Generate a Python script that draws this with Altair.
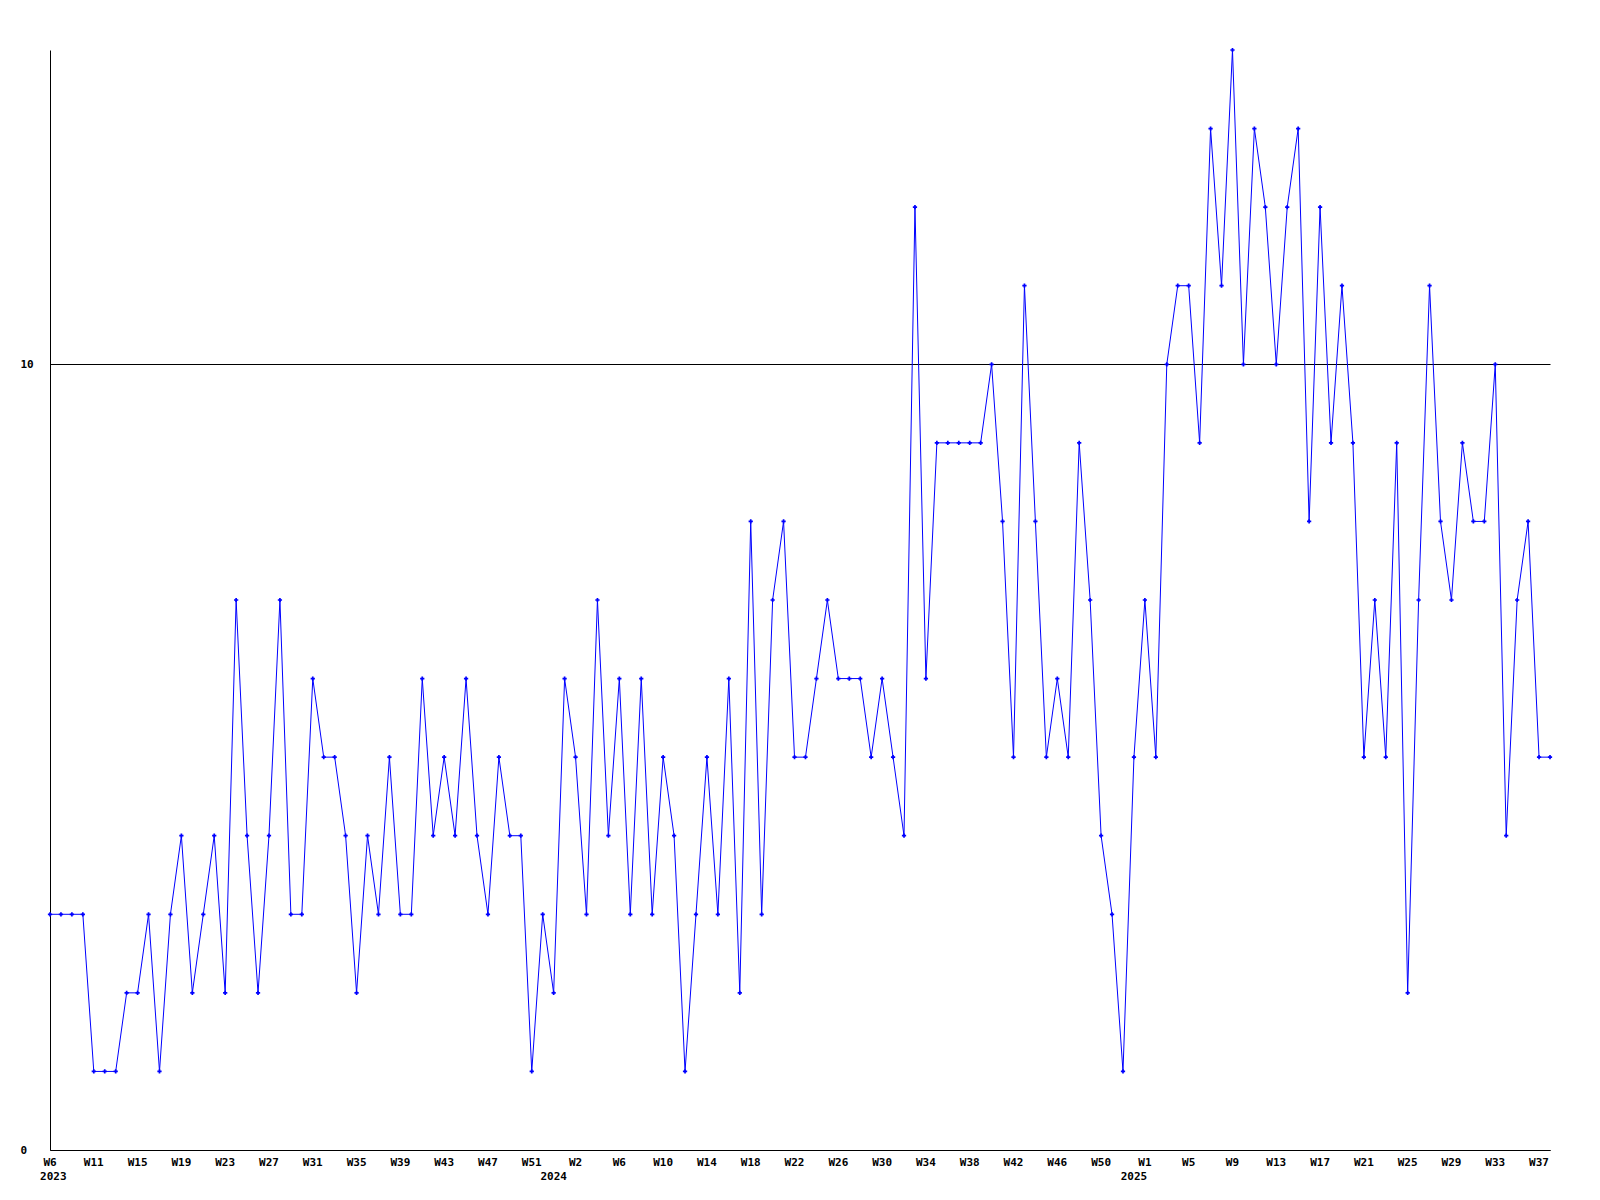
import altair as alt
import pandas as pd

# weekly values, 2023 W6 .. 2025 W37 (source numbers weeks W1..W53)
first_year = 2023
first_week = 6
weeks_in_year = 53
values = [3, 3, 3, 3, 1, 1, 1, 2, 2, 3, 1, 3, 4, 2, 3, 4, 2, 7, 4, 2,
          4, 7, 3, 3, 6, 5, 5, 4, 2, 4, 3, 5, 3, 3, 6, 4, 5, 4, 6, 4,
          3, 5, 4, 4, 1, 3, 2, 6, 5, 3, 7, 4, 6, 3, 6, 3, 5, 4, 1, 3,
          5, 3, 6, 2, 8, 3, 7, 8, 5, 5, 6, 7, 6, 6, 6, 5, 6, 5, 4, 12,
          6, 9, 9, 9, 9, 9, 10, 8, 5, 11, 8, 5, 6, 5, 9, 7, 4, 3, 1, 5,
          7, 5, 10, 11, 11, 9, 13, 11, 14, 10, 13, 12, 10, 12, 13, 8, 12, 9, 11, 9,
          5, 7, 5, 9, 2, 7, 11, 8, 7, 9, 8, 8, 10, 4, 7, 8, 5, 5]

label_years = [2023] * 12 + [2024] * 13 + [2025] * 10
label_weeks = [6, 11, 15, 19, 23, 27, 31, 35, 39, 43, 47, 51,
               2, 6, 10, 14, 18, 22, 26, 30, 34, 38, 42, 46, 50,
               1, 5, 9, 13, 17, 21, 25, 29, 33, 37]
y_tick_values = [0, 10]


def week_index(year, week):
    return (year - first_year) * weeks_in_year + week - first_week


data = pd.DataFrame({"i": list(range(len(values))), "v": values})

# week labels sit one week before their point; year label at the turn of the year
lab_pos = [max(week_index(y, w) - 1, 0) for y, w in zip(label_years, label_weeks)]
week_labels = pd.DataFrame({"p": lab_pos, "t": [f"W{w}" for w in label_weeks]})
years = sorted(set(label_years))
year_labels = pd.DataFrame({"p": [max(week_index(y, 1) - 2, 0.3) for y in years],
                            "t": [str(y) for y in years]})

W, H = 1500, 1100
FONT = "DejaVu Sans Mono"

xs = alt.Scale(domain=[0, len(values) - 1], nice=False, zero=False)
ys = alt.Scale(domain=[0, max(values)], nice=False)

base = alt.Chart(data)
line = base.mark_line(color="#0000ff", strokeWidth=1, clip=False).encode(
    x=alt.X("i:Q", scale=xs,
            axis=alt.Axis(labels=False, ticks=False, grid=False, domainColor="black",
                          domainWidth=1, title=None)),
    y=alt.Y("v:Q", scale=ys,
            axis=alt.Axis(values=y_tick_values, format="d", grid=True, gridColor="black",
                          gridWidth=1, gridOpacity=1, ticks=False, tickSize=0,
                          domainColor="black", domainWidth=1, labelFont=FONT,
                          labelFontWeight="bold", labelFontSize=11, labelColor="black",
                          labelAlign="left", labelPadding=30, title=None)),
)
pts = base.mark_point(shape="cross", filled=True, size=18, color="#0000ff", opacity=1).encode(
    x=alt.X("i:Q", scale=xs), y=alt.Y("v:Q", scale=ys)
)

wl = alt.Chart(week_labels).mark_text(font=FONT, fontWeight="bold", fontSize=11,
                                      color="black", align="center", baseline="alphabetic").encode(
    x=alt.X("p:Q", scale=xs), y=alt.value(H + 16), text="t:N"
)
yl = alt.Chart(year_labels).mark_text(font=FONT, fontWeight="bold", fontSize=11,
                                      color="black", align="center", baseline="alphabetic").encode(
    x=alt.X("p:Q", scale=xs), y=alt.value(H + 30), text="t:N"
)

chart = alt.layer(line, pts, wl, yl).properties(
    width=W, height=H,
    autosize=alt.AutoSizeParams(type="none"),
    padding={"left": 42, "top": 42, "right": 40, "bottom": 40},
    background="white",
).configure_view(stroke=None)

chart.save("out.html", embed_options={"renderer": "svg", "actions": False})
